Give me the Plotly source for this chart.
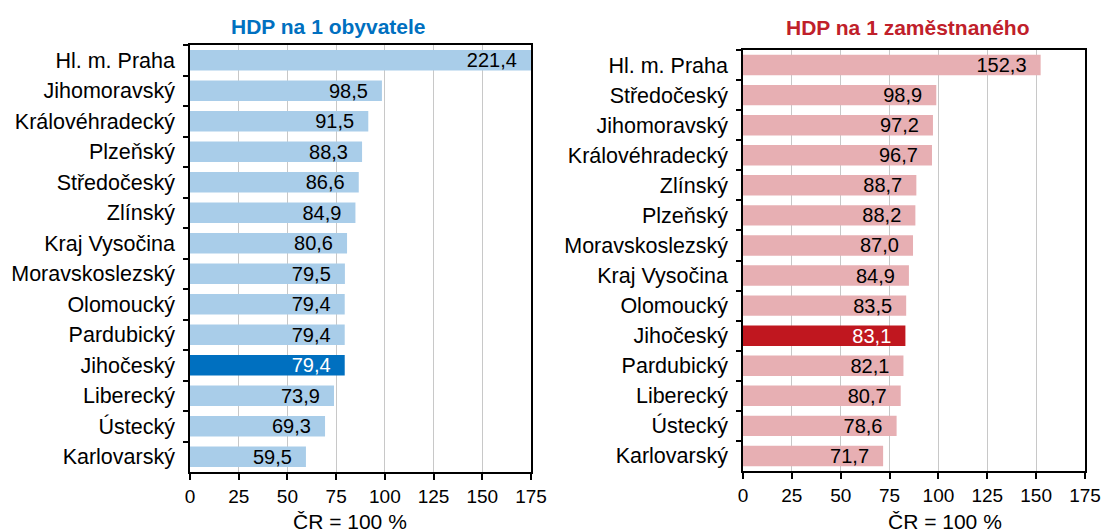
import plotly.graph_objects as go

# ---- data ----
left_regions = ["Hl. m. Praha", "Jihomoravský", "Královéhradecký", "Plzeňský", "Středočeský",
                "Zlínský", "Kraj Vysočina", "Moravskoslezský", "Olomoucký", "Pardubický",
                "Jihočeský", "Liberecký", "Ústecký", "Karlovarský"]
left_values = [221.4, 98.5, 91.5, 88.3, 86.6, 84.9, 80.6, 79.5, 79.4, 79.4, 79.4, 73.9, 69.3, 59.5]

right_regions = ["Hl. m. Praha", "Středočeský", "Jihomoravský", "Královéhradecký", "Zlínský",
                 "Plzeňský", "Moravskoslezský", "Kraj Vysočina", "Olomoucký", "Jihočeský",
                 "Pardubický", "Liberecký", "Ústecký", "Karlovarský"]
right_values = [152.3, 98.9, 97.2, 96.7, 88.7, 88.2, 87.0, 84.9, 83.5, 83.1, 82.1, 80.7, 78.6, 71.7]

highlight = "Jihočeský"
x_ticks = [0, 25, 50, 75, 100, 125, 150, 175]
x_max = 175
left_title = "HDP na 1 obyvatele"
right_title = "HDP na 1 zaměstnaného"
axis_title = "ČR = 100 %"

# ---- styles ----
FONT = "Liberation Sans, Arial, sans-serif"
W, H = 1102, 532
blue_light, blue_dark = "#A9CDE9", "#0070C0"
red_light, red_dark = "#E7AFB3", "#C0171F"
PAD = "\u00a0\u00a0"


def fmt(v):
    return f"{v:.1f}".replace(".", ",") + PAD


def bar_trace(regions, values, light, dark, xa, ya):
    return go.Bar(
        y=regions,
        x=[min(v, x_max) for v in values],
        orientation="h",
        marker=dict(color=[dark if r == highlight else light for r in regions], line=dict(width=0)),
        width=0.68,
        text=[fmt(v) for v in values],
        textposition="inside",
        insidetextanchor="end",
        textangle=0,
        constraintext="none",
        insidetextfont=dict(family=FONT, size=20,
                            color=["white" if r == highlight else "black" for r in regions]),
        hoverinfo="skip",
        xaxis=xa, yaxis=ya,
        showlegend=False,
    )


fig = go.Figure()
fig.add_trace(bar_trace(left_regions, left_values, blue_light, blue_dark, "x", "y"))
fig.add_trace(bar_trace(right_regions, right_values, red_light, red_dark, "x2", "y2"))


def px_x(p):
    return p / W


def px_y(p):
    return 1 - p / H


xcommon = dict(range=[0, x_max], tickvals=x_ticks, ticks="outside", ticklen=6, tickwidth=1.5,
               tickcolor="black", showline=True, linecolor="black", linewidth=1.5, mirror=True,
               showgrid=True, gridcolor="#C8C8C8", gridwidth=1, zeroline=False, automargin=False,
               tickfont=dict(family=FONT, size=19, color="black"), fixedrange=True)
ycommon = dict(type="category", autorange="reversed", ticks="outside", ticklen=5, tickwidth=1.5,
               tickcolor="black", tickson="boundaries", showline=True, linecolor="black",
               linewidth=1.5, mirror=True, showgrid=False, ticklabelstandoff=9, automargin=False,
               tickfont=dict(family=FONT, size=21.5, color="black"), fixedrange=True)

fig.update_layout(
    width=W, height=H,
    margin=dict(l=0, r=0, t=0, b=0),
    paper_bgcolor="white", plot_bgcolor="white",
    font=dict(family=FONT, color="black"),
    bargap=0.3,
    xaxis=dict(domain=[px_x(190), px_x(531)], anchor="y", **xcommon),
    yaxis=dict(domain=[px_y(472), px_y(45)], anchor="x", **ycommon),
    xaxis2=dict(domain=[px_x(743), px_x(1085)], anchor="y2", **xcommon),
    yaxis2=dict(domain=[px_y(471), px_y(50)], anchor="x2", **ycommon),
    annotations=[
        dict(text=f"<b>{left_title}</b>", x=px_x(328), y=px_y(26), xref="paper", yref="paper",
             showarrow=False, xanchor="center", yanchor="middle",
             font=dict(family=FONT, size=21, color="#0070C0")),
        dict(text=f"<b>{right_title}</b>", x=px_x(908), y=px_y(28), xref="paper", yref="paper",
             showarrow=False, xanchor="center", yanchor="middle",
             font=dict(family=FONT, size=21, color="#C0202A")),
        dict(text=axis_title, x=px_x(350), y=px_y(521), xref="paper", yref="paper",
             showarrow=False, xanchor="center", yanchor="middle",
             font=dict(family=FONT, size=21, color="black")),
        dict(text=axis_title, x=px_x(945), y=px_y(521), xref="paper", yref="paper",
             showarrow=False, xanchor="center", yanchor="middle",
             font=dict(family=FONT, size=21, color="black")),
    ],
)

fig.write_html(
    "out.html",
    config={"displayModeBar": False},
    post_script="document.body.style.margin='0';document.body.style.overflow='hidden';",
)
